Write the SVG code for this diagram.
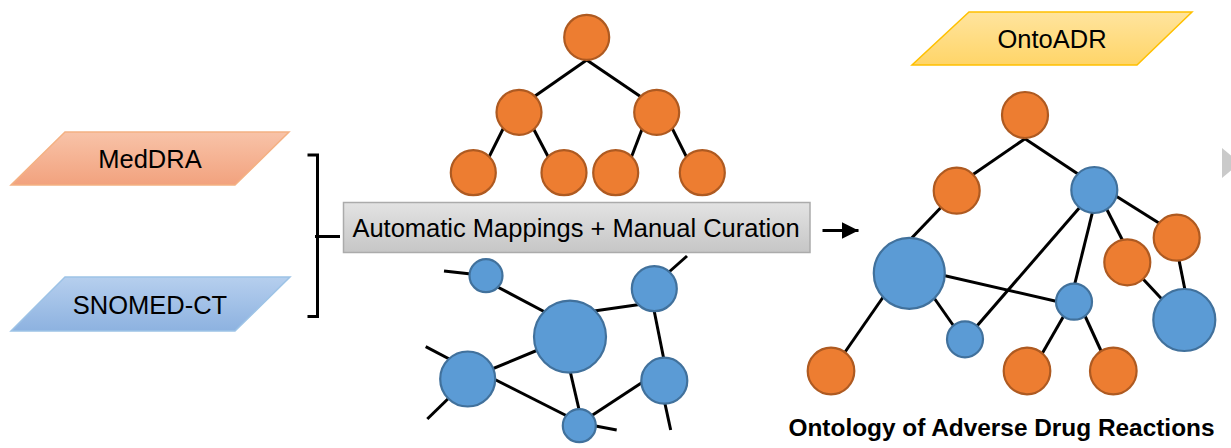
<svg xmlns="http://www.w3.org/2000/svg" width="1231" height="448" viewBox="0 0 1231 448">
<defs>
<linearGradient id="gOrange" x1="0" y1="0" x2="0" y2="1"><stop offset="0" stop-color="#F8C3A8"/><stop offset="1" stop-color="#F2A27E"/></linearGradient>
<linearGradient id="gBlue" x1="0" y1="0" x2="0" y2="1"><stop offset="0" stop-color="#B6CFEE"/><stop offset="1" stop-color="#8DB2E0"/></linearGradient>
<linearGradient id="gYellow" x1="0" y1="0" x2="0" y2="1"><stop offset="0" stop-color="#FFE49E"/><stop offset="1" stop-color="#FFD568"/></linearGradient>
<linearGradient id="gGray" x1="0" y1="0" x2="0" y2="1"><stop offset="0" stop-color="#E3E3E3"/><stop offset="1" stop-color="#C6C6C6"/></linearGradient>
<marker id="arr" viewBox="0 0 10 10" refX="10" refY="5" markerWidth="5.5" markerHeight="5.5" markerUnits="strokeWidth" orient="auto"><path d="M0,0 L10,5 L0,10 Z" fill="#000"/></marker>
</defs>
<style>
.lbl{font-family:"Liberation Sans",Arial,sans-serif;font-size:25.5px;fill:#000;text-anchor:middle}
.cap{font-family:"Liberation Sans",Arial,sans-serif;font-size:24.4px;font-weight:bold;fill:#000;text-anchor:middle}
.e{stroke:#000;stroke-width:3;fill:none}
.o{fill:#ED7D31;stroke:#AE5A21;stroke-width:2.2}
.b{fill:#5B9BD5;stroke:#41719C;stroke-width:2.2}
</style>

<g id="meddra">
<polygon points="65,132 289,132 235,185 11,185" fill="url(#gOrange)" stroke="#F4B183" stroke-width="1.5"/>
<text class="lbl" x="150" y="168">MedDRA</text>
</g>
<g id="snomed">
<polygon points="65,277 290,277 235,331 11,331" fill="url(#gBlue)" stroke="#9DC3E6" stroke-width="1.5"/>
<text class="lbl" x="150" y="314">SNOMED-CT</text>
</g>
<g id="mapping">
<rect x="343.5" y="202.5" width="466.5" height="50" fill="url(#gGray)" stroke="#ABABAB" stroke-width="1.5"/>
<text class="lbl" x="576" y="237">Automatic Mappings + Manual Curation</text>
</g>
<g id="ontoadr">
<polygon points="969,12 1192,12 1137,65 912,65" fill="url(#gYellow)" stroke="#FFC000" stroke-width="1.5"/>
<text class="lbl" x="1052" y="48">OntoADR</text>
</g>
<g id="caption">
<text class="cap" x="1001.5" y="436">Ontology of Adverse Drug Reactions</text>
</g>
<g id="edge-artifact">
<polygon points="1222,148 1240,163 1222,178" fill="#CACACA"/>
</g>

<g id="connectors">
<path class="e" d="M307.5,155 H317.5 V316.5 H307.5 M315,236.5 H340" stroke-width="2.8"/>
<line class="e" x1="822.5" y1="230.5" x2="858.5" y2="230.5" marker-end="url(#arr)"/>
<!-- top tree edges -->
<line class="e" x1="586.7" y1="60" x2="525" y2="103"/>
<line class="e" x1="586.7" y1="60" x2="650" y2="103"/>
<line class="e" x1="505" y1="125" x2="485" y2="165"/>
<line class="e" x1="531" y1="124" x2="553" y2="166"/>
<line class="e" x1="644" y1="124" x2="628" y2="166"/>
<line class="e" x1="670" y1="124" x2="691" y2="166"/>
<!-- bottom network edges -->
<line class="e" x1="444" y1="271" x2="480" y2="275"/>
<line class="e" x1="490" y1="283" x2="560" y2="320"/>
<line class="e" x1="580" y1="313" x2="650" y2="303"/>
<line class="e" x1="660" y1="280" x2="687" y2="256"/>
<line class="e" x1="652" y1="300" x2="666" y2="370"/>
<line class="e" x1="550" y1="345" x2="475" y2="376"/>
<line class="e" x1="425.7" y1="346.7" x2="455" y2="362"/>
<line class="e" x1="427.3" y1="419" x2="455" y2="392"/>
<line class="e" x1="480" y1="372" x2="575" y2="420"/>
<line class="e" x1="568" y1="362" x2="581" y2="418"/>
<line class="e" x1="655" y1="374" x2="585" y2="420"/>
<line class="e" x1="585" y1="424" x2="616.7" y2="430"/>
<line class="e" x1="662" y1="390" x2="670.7" y2="430"/>
<!-- right graph edges -->
<line class="e" x1="1025" y1="138.7" x2="965" y2="180"/>
<line class="e" x1="1025" y1="138.7" x2="1090" y2="182"/>
<line class="e" x1="950" y1="198" x2="905" y2="245"/>
<line class="e" x1="1100" y1="186" x2="1170" y2="230"/>
<line class="e" x1="1100" y1="196" x2="1130" y2="255"/>
<line class="e" x1="1096" y1="198" x2="1072" y2="295"/>
<line class="e" x1="1087" y1="199" x2="970" y2="334"/>
<line class="e" x1="920" y1="270" x2="1068" y2="304"/>
<line class="e" x1="925" y1="285" x2="960" y2="335"/>
<line class="e" x1="895" y1="280" x2="836" y2="365"/>
<line class="e" x1="1070" y1="305" x2="1035" y2="366"/>
<line class="e" x1="1080" y1="305" x2="1108" y2="366"/>
<line class="e" x1="1130" y1="265" x2="1172" y2="310"/>
<line class="e" x1="1176" y1="245" x2="1187" y2="300"/>
</g>

<g id="tree-top">
<circle id="t1" class="o" cx="586.7" cy="37.3" r="22.5"/>
<circle id="t2" class="o" cx="519" cy="112.3" r="22.5"/>
<circle id="t3" class="o" cx="656.7" cy="112.3" r="22.5"/>
<circle id="t4" class="o" cx="473.3" cy="172.7" r="22.5"/>
<circle id="t5" class="o" cx="564" cy="172.7" r="22.5"/>
<circle id="t6" class="o" cx="615.7" cy="172.7" r="22.5"/>
<circle id="t7" class="o" cx="702.3" cy="172.7" r="22.5"/>
</g>
<g id="network-bottom">
<circle id="n1" class="b" cx="486" cy="275.7" r="16.5"/>
<circle id="n2" class="b" cx="570" cy="336.7" r="36"/>
<circle id="n3" class="b" cx="654.3" cy="288.7" r="22.5"/>
<circle id="n4" class="b" cx="467.7" cy="379" r="27.5"/>
<circle id="n5" class="b" cx="664.3" cy="380.7" r="23"/>
<circle id="n6" class="b" cx="579.3" cy="425.7" r="16.5"/>
</g>
<g id="graph-right">
<circle id="r1" class="o" cx="1025" cy="115" r="23"/>
<circle id="r2" class="o" cx="956.7" cy="190.7" r="23"/>
<circle id="r3" class="b" cx="1094.3" cy="190" r="23"/>
<circle id="r4" class="b" cx="909.3" cy="273.3" r="35.5"/>
<circle id="r5" class="o" cx="1176.7" cy="237.7" r="23"/>
<circle id="r6" class="o" cx="1127.3" cy="262.3" r="23"/>
<circle id="r7" class="b" cx="1074" cy="301.7" r="18"/>
<circle id="r8" class="b" cx="1184.3" cy="320" r="31"/>
<circle id="r9" class="b" cx="965" cy="339.3" r="18"/>
<circle id="r10" class="o" cx="831" cy="371" r="23.3"/>
<circle id="r11" class="o" cx="1027" cy="371" r="23.3"/>
<circle id="r12" class="o" cx="1113.3" cy="371" r="23.3"/>
</g>
</svg>
